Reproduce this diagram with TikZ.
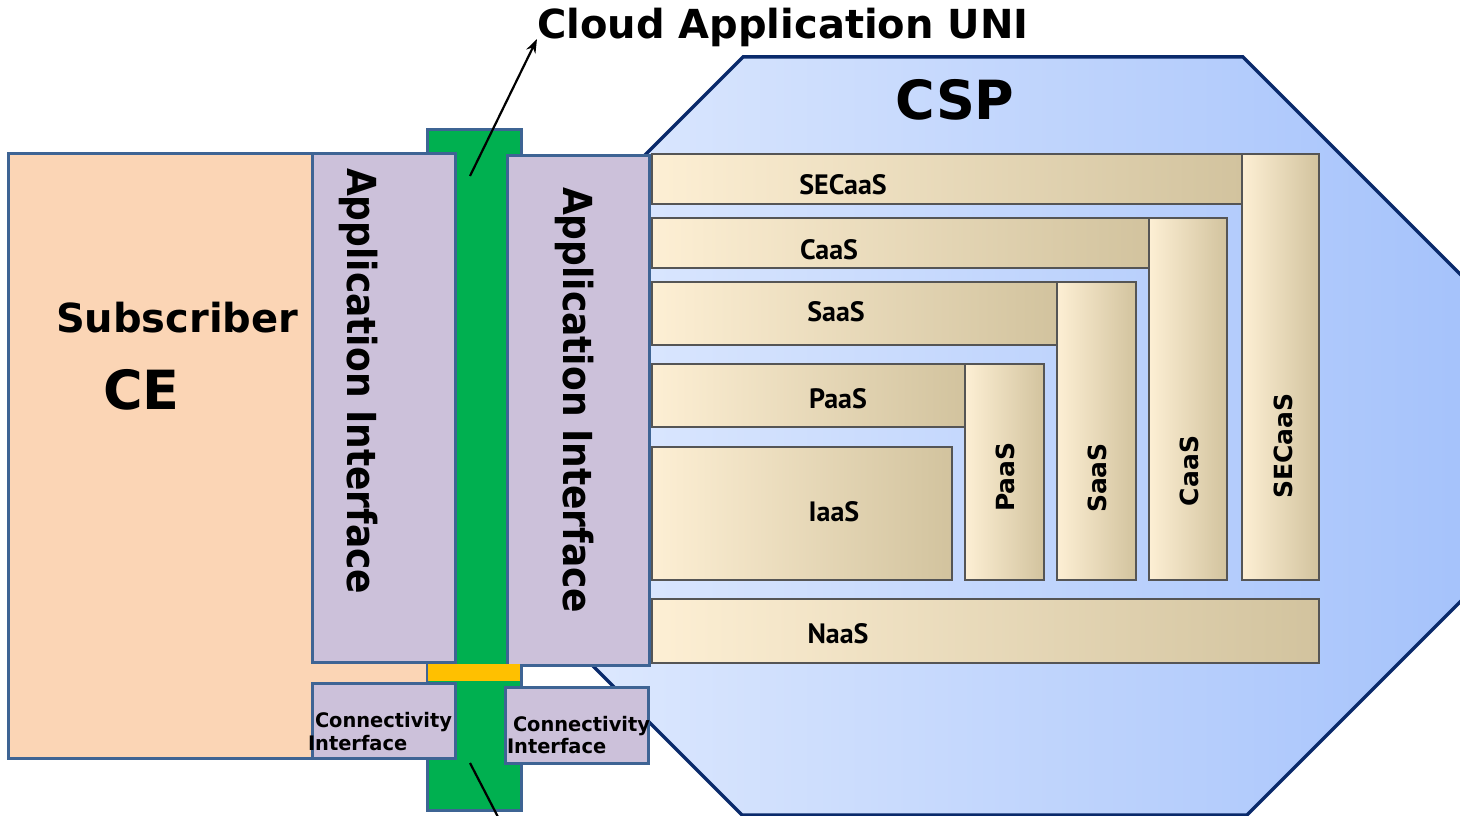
\documentclass[tikz,border=0pt]{standalone}
\usepackage{fontspec}
\usepackage{graphicx}
\setmainfont{DejaVu Sans}
\newfontfamily\narrowfont{PT Sans}
\usetikzlibrary{arrows.meta}
\definecolor{peach}{HTML}{FBD5B5}
\definecolor{lav}{HTML}{CCC1DA}
\definecolor{bordb}{HTML}{3E6494}
\definecolor{grn}{HTML}{00B050}
\definecolor{ylw}{HTML}{FFC000}
\definecolor{navy}{HTML}{0A2A6B}
\definecolor{octL}{HTML}{DEE9FE}
\definecolor{octR}{HTML}{A3C1FB}
\definecolor{crL}{HTML}{FDEFD4}
\definecolor{crM}{HTML}{F1E9D3}
\definecolor{crR}{HTML}{D2C39E}
\definecolor{svcb}{HTML}{555555}
\newcommand\sx[2]{\scalebox{#1}[1]{#2}}
\newcommand\blk[6]{\node[#6, minimum width={(#4-#2)*1pt}, minimum height={(#5-#3)*1pt}] (#1) at ({(#2+#4)/2},{(#3+#5)/2}) {};}
\tikzset{
  every node/.style={inner sep=0pt, outer sep=0pt},
  subbox/.style={draw=bordb, line width=3pt, fill=peach},
  ifbox/.style={draw=bordb, line width=3pt, fill=lav},
  greenbar/.style={draw=bordb, line width=3pt, fill=grn},
  svc/.style={draw=svcb, line width=2.5pt, left color=crL, middle color=crM, right color=crR},
  hlabel/.style={font=\narrowfont\bfseries\fontsize{28}{30}\selectfont, anchor=base},
  vlabel/.style={font=\bfseries\fontsize{25}{27}\selectfont, rotate=90},
  biglabel/.style={font=\bfseries},
  conn/.style={font=\bfseries\fontsize{20}{22}\selectfont, anchor=base west},
}
\begin{document}
\begin{tikzpicture}[x=1pt,y=-1pt]
\useasboundingbox (0,0) rectangle (1460,816);
\clip (0,0) rectangle (1460,816);
% CSP octagon
\shade[draw=navy, line width=3.5pt, left color=octL, right color=octR]
  (743,57) -- (1243,57) -- (1500,314) -- (1500,562) -- (1247,815) -- (742,815) -- (560,633) -- (560,240) -- cycle;
\node[biglabel, font=\bfseries\fontsize{54}{56}\selectfont, anchor=base] (csp) at (955,120) {CSP};
% subscriber
\blk{sub}{8}{153}{428}{758}{subbox}
\node[biglabel, font=\bfseries\fontsize{40}{42}\selectfont, anchor=base west] (subt) at (56,332) {Subscriber};
\node[biglabel, font=\bfseries\fontsize{54}{56}\selectfont, anchor=base west] (ce) at (103,409) {CE};
% green bar
\blk{gbar}{427}{129}{521}{810}{greenbar}
% application interfaces
\blk{aifL}{312}{153}{455}{662}{ifbox}
\blk{aifR}{507}{155}{649}{665}{ifbox}
\node[font=\bfseries\fontsize{40}{42}\selectfont, rotate=-90, anchor=base west] (aifLt) at (347,168) {\sx{0.9}{Application Interface}};
\node[font=\bfseries\fontsize{40}{42}\selectfont, rotate=-90, anchor=base west] (aifRt) at (563,187) {\sx{0.9}{Application Interface}};
% yellow bar
\blk{ybar}{428}{664}{520}{681}{fill=ylw}
% connectivity interfaces
\blk{cifL}{312}{683}{455}{758}{ifbox}
\blk{cifR}{505}{687}{648}{763}{ifbox}
\node[conn] (cifLa) at (315,727) {\sx{0.97}{Connectivity}};
\node[conn] (cifLb) at (308,750) {\sx{0.97}{Interface}};
\node[conn] (cifRa) at (513,731) {\sx{0.97}{Connectivity}};
\node[conn] (cifRb) at (507,753) {\sx{0.97}{Interface}};
% services
\blk{secH}{652}{154}{1242}{204}{svc}
\blk{caasH}{652}{218}{1149}{268}{svc}
\blk{saasH}{652}{282}{1057}{345}{svc}
\blk{paasH}{652}{364}{965}{427}{svc}
\blk{iaas}{652}{447}{952}{580}{svc}
\blk{paasV}{965}{364}{1044}{580}{svc}
\blk{saasV}{1057}{282}{1136}{580}{svc}
\blk{caasV}{1149}{218}{1227}{580}{svc}
\blk{secV}{1242}{154}{1319}{580}{svc}
\blk{naas}{652}{599}{1319}{663}{svc}
\node[hlabel] (secHt) at (843,194) {SECaaS};
\node[hlabel] (caasHt) at (829,259) {CaaS};
\node[hlabel] (saasHt) at (836,321) {SaaS};
\node[hlabel] (paasHt) at (838,408) {PaaS};
\node[hlabel] (iaast) at (834,521) {IaaS};
\node[hlabel] (naast) at (838,643) {NaaS};
\node[vlabel] (paasVt) at (1005,477) {PaaS};
\node[vlabel] (saasVt) at (1097,478) {SaaS};
\node[vlabel] (caasVt) at (1189,471) {CaaS};
\node[vlabel] (secVt) at (1283,446) {SECaaS};
% UNI label and pointers
\node[biglabel, font=\bfseries\fontsize{40}{42}\selectfont, anchor=base west] (uni) at (537,39) {Cloud Application UNI};
\coordinate (uniTail) at (470,176);
\coordinate (botTail) at (470,763);
\coordinate (botEnd) at (511,842);
\draw[line width=2.2pt, -{Stealth[length=14pt,width=10pt]}] (uniTail) -- (uni.base west);
\draw[line width=2.2pt] (botTail) -- (botEnd);
\end{tikzpicture}
\end{document}
